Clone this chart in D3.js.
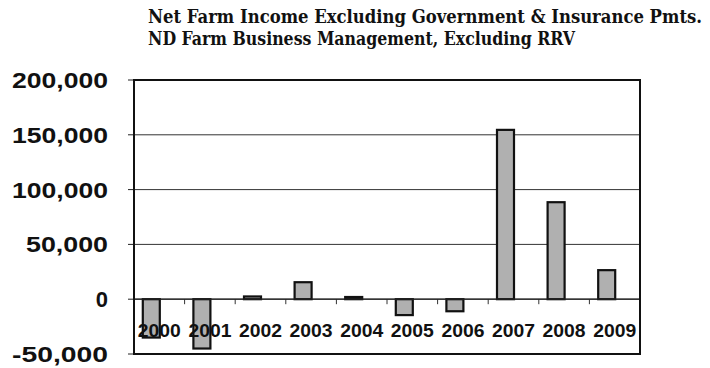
<!DOCTYPE html>
<html>
<head>
<meta charset="utf-8">
<script src="https://cdn.jsdelivr.net/npm/d3@7"></script>
<style>
  html, body { margin: 0; padding: 0; background: #fff; }
  svg { display: block; }
  .title { font-family: "DejaVu Serif", serif; font-stretch: condensed; font-weight: bold; font-size: 18px; fill: #111; }
  .y-label { font-family: "Liberation Sans", Arial, sans-serif; font-weight: bold; font-size: 22px; fill: #111; }
  .x-label { font-family: "Liberation Sans", Arial, sans-serif; font-weight: bold; font-size: 18px; fill: #111; }
</style>
</head>
<body>
<svg id="chart"></svg>
<script>
const years = ['2000', '2001', '2002', '2003', '2004', '2005', '2006', '2007', '2008', '2009']
const income = [-35000, -45000, 2500, 15500, 2000, -14500, -11000, 154500, 88500, 26500]
const yTicks = [-50000, 0, 50000, 100000, 150000, 200000]
const titleLines = [
  'Net Farm Income Excluding Government & Insurance Pmts.',
  'ND Farm Business Management, Excluding RRV'
]

const WIDTH = 710, HEIGHT = 368
const MARGIN = { top: 80, right: 70, bottom: 14, left: 134 }
const BAR_SHIFT = -8   // bars sit a bit left of their category in the original

const $svg = d3.select('#chart').attr('width', WIDTH).attr('height', HEIGHT)

const xScale = d3.scaleBand()
  .domain(years)
  .range([MARGIN.left, WIDTH - MARGIN.right])
const yScale = d3.scaleLinear()
  .domain([-50000, 200000])
  .range([HEIGHT - MARGIN.bottom, MARGIN.top])

// title
$svg.selectAll('.title')
  .data(titleLines)
  .enter()
  .append('text')
    .attr('class', 'title')
    .attr('x', 148)
    .attr('y', (d, i) => 23 + i * 22)
    .attr('textLength', (d, i) => i === 0 ? 554 : 427)
    .attr('lengthAdjust', 'spacingAndGlyphs')
    .text(d => d)

// gridlines
$svg.append('g')
  .selectAll('line')
  .data(yTicks.filter(d => d !== -50000 && d !== 200000))
  .enter()
  .append('line')
    .attr('x1', MARGIN.left)
    .attr('x2', WIDTH - MARGIN.right)
    .attr('y1', d => yScale(d))
    .attr('y2', d => yScale(d))
    .attr('stroke', '#333')
    .attr('stroke-width', 1)

// left ticks
$svg.append('g')
  .selectAll('line')
  .data(yTicks)
  .enter()
  .append('line')
    .attr('x1', MARGIN.left - 6)
    .attr('x2', MARGIN.left)
    .attr('y1', d => yScale(d))
    .attr('y2', d => yScale(d))
    .attr('stroke', '#222')
    .attr('stroke-width', 1)

// category ticks on the zero line
$svg.append('g')
  .selectAll('line')
  .data(years.slice(1))
  .enter()
  .append('line')
    .attr('x1', d => xScale(d))
    .attr('x2', d => xScale(d))
    .attr('y1', yScale(0))
    .attr('y2', yScale(0) + 5)
    .attr('stroke', '#333')
    .attr('stroke-width', 1)

// bars
const barW = 17
$svg.append('g')
  .selectAll('rect')
  .data(years.map((y, i) => ({ year: y, value: income[i] })))
  .enter()
  .append('rect')
    .attr('x', d => xScale(d.year) + xScale.bandwidth() / 2 - barW / 2 + BAR_SHIFT)
    .attr('y', d => yScale(Math.max(0, d.value)))
    .attr('width', barW)
    .attr('height', d => Math.abs(yScale(d.value) - yScale(0)))
    .attr('fill', '#b0b0b0')
    .attr('stroke', '#111')
    .attr('stroke-width', 2.2)

// zero line
$svg.append('line')
  .attr('x1', MARGIN.left)
  .attr('x2', WIDTH - MARGIN.right)
  .attr('y1', yScale(0))
  .attr('y2', yScale(0))
  .attr('stroke', '#222')
  .attr('stroke-width', 1.2)

// frame
$svg.append('rect')
  .attr('x', MARGIN.left)
  .attr('y', MARGIN.top)
  .attr('width', WIDTH - MARGIN.right - MARGIN.left)
  .attr('height', HEIGHT - MARGIN.bottom - MARGIN.top)
  .attr('fill', 'none')
  .attr('stroke', '#111')
  .attr('stroke-width', 2)

// y labels (stretched a little, like the scanned original)
const yLab = $svg.selectAll('.y-label')
  .data(yTicks)
  .enter()
  .append('text')
    .attr('class', 'y-label')
    .attr('x', 108)
    .attr('y', d => yScale(d))
    .attr('dy', '0.36em')
    .attr('text-anchor', 'end')
    .text(d => d3.format(',')(d).replace('\u2212', '-'))
yLab.filter(d => d !== 0)
  .attr('textLength', d => (d < 0 || d >= 100000) ? 96 : 82)
  .attr('lengthAdjust', 'spacingAndGlyphs')

// x labels, drawn over the bars
$svg.selectAll('.x-label')
  .data(years)
  .enter()
  .append('text')
    .attr('class', 'x-label')
    .attr('x', d => xScale(d) + xScale.bandwidth() / 2)
    .attr('y', 337)
    .attr('text-anchor', 'middle')
    .attr('textLength', 43)
    .attr('lengthAdjust', 'spacingAndGlyphs')
    .text(d => d)
</script>
</body>
</html>
